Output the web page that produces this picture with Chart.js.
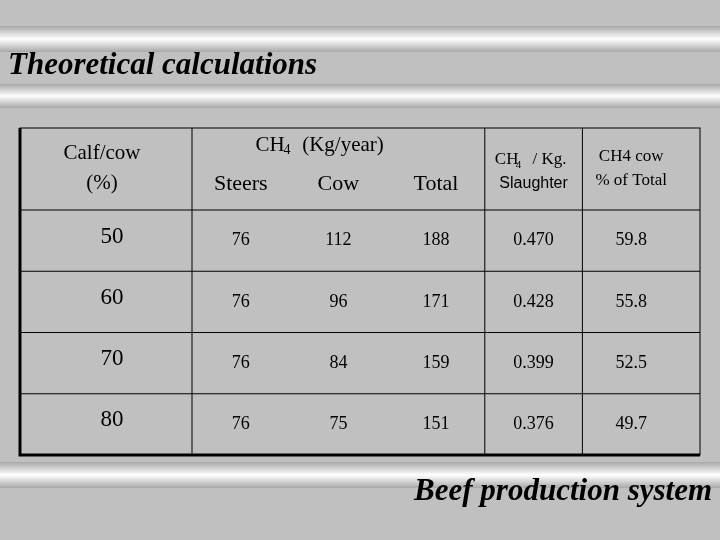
<!DOCTYPE html>
<html><head><meta charset="utf-8">
<script src="https://cdn.jsdelivr.net/npm/chart.js@4"></script>
<style>html,body{margin:0;padding:0;background:#c0c0c0}#w{width:720px;height:540px}</style>
</head><body><div id="w"><canvas id="c"></canvas></div>
<script>
const calfPct = ['50','60','70','80'];
const columns = ['Steers','Cow','Total','CH4/Kg','CH4 cow %'];
const steers = ['76','76','76','76'];
const cow = ['112','96','84','75'];
const total = ['188','171','159','151'];
const perKg = ['0.470','0.428','0.399','0.376'];
const cowPct = ['59.8','55.8','52.5','49.7'];
const series = [steers, cow, total, perKg, cowPct];

const tablePlugin = {
  id: 'table',
  beforeDraw(chart) {
    const c = chart.ctx, W = chart.width, H = chart.height;
    c.save();
    c.fillStyle = '#c0c0c0'; c.fillRect(0,0,W,H);
    function band(y0,y1){
      const g = c.createLinearGradient(0,y0,0,y1);
      g.addColorStop(0,'#a8a8a8'); g.addColorStop(0.5,'#ffffff'); g.addColorStop(1,'#a8a8a8');
      c.fillStyle = g; c.fillRect(0,y0,W,y1-y0);
    }
    band(26,52); band(84,108); band(462,488);
    c.fillStyle = '#000';
    c.font = 'italic bold 31px "Liberation Serif"';
    c.textBaseline = 'middle'; c.textAlign = 'left';
    c.fillText('Theoretical calculations', 8, 66);
    c.textAlign = 'right';
    c.fillText('Beef production system', 712, 492);
    c.restore();
  },
  afterDraw(chart) {
    const c = chart.ctx, xs = chart.scales.x, ys = chart.scales.y, a = chart.chartArea;
    c.save();
    c.strokeStyle = '#000'; c.lineWidth = 1;
    const L = 20, top = 128, R = chart.width - 20;
    c.lineWidth = 3; c.beginPath(); c.moveTo(L,top); c.lineTo(L,a.bottom); c.lineTo(R,a.bottom); c.stroke();
    c.lineWidth = 1;
    c.strokeRect(L, top, R-L, a.bottom-top);
    const rh = (ys.getPixelForValue(1)-ys.getPixelForValue(0))/2;
    for (let i=0;i<calfPct.length;i++){
      const yb = ys.getPixelForValue(i) - rh;
      c.beginPath(); c.moveTo(L,yb); c.lineTo(R,yb); c.stroke();
    }
    const half = (xs.getPixelForValue(1)-xs.getPixelForValue(0))/2;
    [0,3,4].forEach(j=>{
      const x = xs.getPixelForValue(j)-half;
      c.beginPath(); c.moveTo(x,top); c.lineTo(x,a.bottom); c.stroke();
    });
    c.fillStyle = '#000'; c.textAlign='center'; c.textBaseline='middle';
    c.font = '21px "Liberation Serif"';
    c.fillText('Calf/cow', 102, 153); c.fillText('(%)', 102, 183);
    c.fillText('CH', 270, 145);
    c.font = '14px "Liberation Serif"'; c.fillText('4', 287, 150);
    c.font = '21px "Liberation Serif"'; c.fillText('(Kg/year)', 343, 145);
    const hy = 184;
    c.font = '22px "Liberation Serif"';
    for (let j=0;j<3;j++) c.fillText(columns[j], xs.getPixelForValue(j), hy);
    const x3 = xs.getPixelForValue(3), x4 = xs.getPixelForValue(4);
    c.font = '17px "Liberation Serif"'; c.fillText('CH', x3-27, 160);
    c.font = '11px "Liberation Serif"'; c.fillText('4', x3-15, 165);
    c.font = '17px "Liberation Serif"'; c.fillText('/ Kg.', x3+16, 160);
    c.font = '16px "Liberation Sans"'; c.fillText('Slaughter', x3, 184);
    c.font = '17px "Liberation Serif"';
    c.fillText('CH4 cow', x4, 157); c.fillText('% of Total', x4, 181);
    for (let i=0;i<calfPct.length;i++){
      const y = ys.getPixelForValue(i);
      c.font = '23px "Liberation Serif"';
      c.fillText(calfPct[i], 112, y-4);
      c.font = '18px "Liberation Serif"';
      series.forEach((s,j)=> c.fillText(s[i], xs.getPixelForValue(j), y));
    }
    c.restore();
  }
};

new Chart(document.getElementById('c'), {
  type: 'scatter',
  data: { datasets: [{ data: [], pointRadius: 0 }] },
  options: {
    responsive: true, maintainAspectRatio: false, animation: false,
    layout: { padding: { left: 192, right: 40, top: 210, bottom: 85 } },
    plugins: { legend: { display: false }, tooltip: { enabled: false } },
    scales: {
      x: { type: 'linear', min: -0.5, max: columns.length - 0.5, display: false },
      y: { type: 'linear', min: -0.5, max: calfPct.length - 0.5, reverse: true, display: false }
    }
  },
  plugins: [tablePlugin]
});
</script></body></html>
